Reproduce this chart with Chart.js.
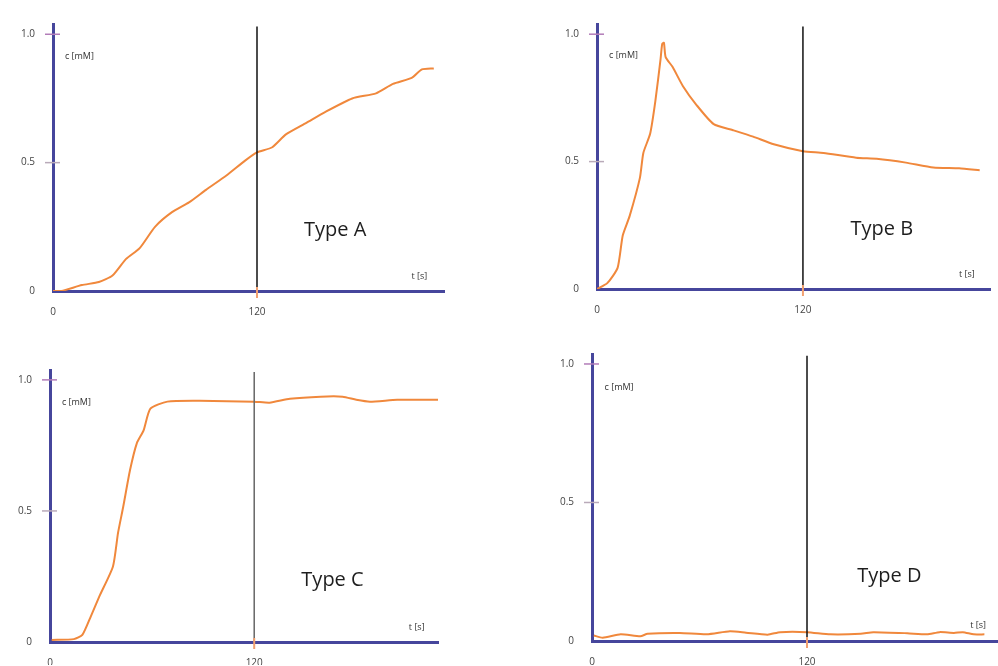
<!DOCTYPE html>
<html>
<head>
<meta charset="utf-8">
<title>Types A-D</title>
<script src="https://cdn.jsdelivr.net/npm/chart.js"></script>
<style>
  body { margin: 0; background: #ffffff; }
  #page { position: relative; width: 998px; height: 666px; overflow: hidden; }
  canvas { position: absolute; }
</style>
</head>
<body>
<div id="page">
  <canvas id="chartA" width="470" height="330" style="left:0px;top:0px"></canvas>
  <canvas id="chartB" width="458" height="330" style="left:540px;top:0px"></canvas>
  <canvas id="chartC" width="470" height="336" style="left:0px;top:330px"></canvas>
  <canvas id="chartD" width="458" height="336" style="left:540px;top:330px"></canvas>
</div>
<script>
// tick labels
const xTicks = [0, 120];
const yTicks = [0, 0.5, 1.0];
const markTime = 120;
const markTop = 1.03;

// Type A: slow steady rise
const timeA = [0, 5, 17, 27, 35, 43, 51, 60, 70, 80, 90, 102, 113, 120, 129, 137, 149, 160, 176, 190, 200, 211, 217, 224];
const concA = [0, 0, 0.023, 0.035, 0.06, 0.125, 0.167, 0.25, 0.307, 0.345, 0.394, 0.45, 0.508, 0.54, 0.56, 0.61, 0.655, 0.697, 0.75, 0.77, 0.807, 0.83, 0.863, 0.867];

// Type B: fast peak, then decay
const timeB = [0, 6, 12, 15, 19, 25, 27, 31, 34, 37, 38, 39, 40, 44, 50, 58, 68, 79, 91, 103, 120, 132, 151, 163, 180, 196, 211, 223];
const concB = [0, 0.023, 0.083, 0.21, 0.286, 0.436, 0.534, 0.61, 0.737, 0.9, 0.962, 0.966, 0.91, 0.872, 0.797, 0.722, 0.647, 0.624, 0.598, 0.568, 0.541, 0.534, 0.515, 0.511, 0.496, 0.477, 0.474, 0.466];

// Type C: rise to plateau
const timeC = [1, 14, 19, 24, 29, 37, 40, 43, 47, 51, 55, 59, 69, 88, 120, 129, 141, 159, 172, 180, 188, 204, 229];
const concC = [0.008, 0.011, 0.027, 0.098, 0.174, 0.288, 0.417, 0.515, 0.655, 0.758, 0.807, 0.89, 0.917, 0.92, 0.917, 0.913, 0.928, 0.936, 0.936, 0.924, 0.917, 0.924, 0.924];

// Type D: no response
const timeD = [1, 6, 16, 27, 31, 49, 64, 77, 86, 98, 105, 120, 133, 150, 157, 176, 187, 194, 202, 207, 213, 219];
const concD = [0.02, 0.012, 0.024, 0.017, 0.026, 0.029, 0.024, 0.035, 0.03, 0.023, 0.032, 0.032, 0.024, 0.026, 0.032, 0.028, 0.024, 0.032, 0.029, 0.032, 0.024, 0.024];

const axisColor = '#46469c';
const curveColor = '#f0883c';
const fontFamily = '"Open Sans", "Liberation Sans", sans-serif';

function toPoints(ts, cs) {
  return ts.map((t, i) => ({ x: t, y: cs[i] }));
}

// short tick marks across the axes, axis captions and the type label
const decorations = {
  id: 'decorations',
  afterDraw(chart, args, opts) {
    const ctx = chart.ctx;
    const xs = chart.scales.x, ys = chart.scales.y;
    const x0 = xs.getPixelForValue(0);
    const y0 = ys.getPixelForValue(0);
    ctx.save();
    ctx.lineWidth = 1.5;
    [0.5, 1.0].forEach(v => {
      const py = ys.getPixelForValue(v);
      ctx.strokeStyle = v === 1.0 ? '#b27cb8' : '#b9aab9';
      ctx.beginPath();
      ctx.moveTo(x0 - 8, py);
      ctx.lineTo(x0 + 7, py);
      ctx.stroke();
    });
    const px = xs.getPixelForValue(markTime);
    ctx.strokeStyle = '#f2a070';
    ctx.lineWidth = 2;
    ctx.beginPath();
    ctx.moveTo(px, y0 - 4);
    ctx.lineTo(px, y0 + 7);
    ctx.stroke();

    ctx.fillStyle = '#333';
    ctx.font = '9px ' + fontFamily;
    ctx.textBaseline = 'middle';
    ctx.textAlign = 'left';
    ctx.fillText('c [mM]', xs.getPixelForValue(7), ys.getPixelForValue(0.915));
    ctx.textAlign = 'center';
    ctx.fillText('t [s]', xs.getPixelForValue(215.5), ys.getPixelForValue(0.057));

    ctx.fillStyle = '#1e1e1e';
    ctx.font = '20px ' + fontFamily;
    ctx.fillText(opts.label, xs.getPixelForValue(166), ys.getPixelForValue(0.235));
    ctx.restore();
  }
};

function makePanel(id, label, ts, cs, layout, lineColor) {
  const canvas = document.getElementById(id);
  new Chart(canvas, {
    type: 'line',
    data: {
      datasets: [
        {
          data: [{ x: markTime, y: 0 }, { x: markTime, y: markTop }],
          borderColor: lineColor,
          borderWidth: 1.5,
          pointRadius: 0
        },
        {
          data: toPoints(ts, cs),
          borderColor: curveColor,
          borderWidth: 2,
          pointRadius: 0,
          tension: 0.2
        }
      ]
    },
    options: {
      responsive: false,
      animation: false,
      events: [],
      layout: { padding: { left: 0, bottom: 0, top: layout.top, right: layout.right } },
      plugins: {
        legend: { display: false },
        tooltip: { enabled: false },
        decorations: { label: label }
      },
      scales: {
        x: {
          type: 'linear',
          min: 0,
          max: layout.xMax,
          afterBuildTicks: s => { s.ticks = xTicks.map(v => ({ value: v })); },
          afterFit: s => { s.height = layout.xHeight; },
          grid: { display: false, drawTicks: false },
          border: { color: axisColor, width: 3 },
          ticks: {
            padding: 15,
            color: '#444',
            font: { size: 10, family: fontFamily },
            callback: v => String(v)
          }
        },
        y: {
          type: 'linear',
          min: 0,
          max: layout.yMax,
          afterBuildTicks: s => { s.ticks = yTicks.map(v => ({ value: v })); },
          afterFit: s => { s.width = layout.yWidth; },
          grid: { display: false, drawTicks: false },
          border: { color: axisColor, width: 3 },
          ticks: {
            padding: 18,
            color: '#444',
            font: { size: 10, family: fontFamily },
            callback: v => (v === 0 ? '0' : v.toFixed(1))
          }
        }
      }
    },
    plugins: [decorations]
  });
}

makePanel('chartA', 'Type A', timeA, concA,
  { yWidth: 53, xHeight: 39, top: 16.4, right: 26, xMax: 230, yMax: 1.04 }, '#111');
makePanel('chartB', 'Type B', timeB, concB,
  { yWidth: 57, xHeight: 41, top: 12.4, right: 8, xMax: 229, yMax: 1.04 }, '#111');
makePanel('chartC', 'Type C', timeC, concC,
  { yWidth: 50, xHeight: 23, top: 40.7, right: 32, xMax: 228, yMax: 1.035 }, '#666');
makePanel('chartD', 'Type D', timeD, concD,
  { yWidth: 52, xHeight: 25, top: 22.2, right: 0, xMax: 226.6, yMax: 1.036 }, '#111');
</script>
</body>
</html>
